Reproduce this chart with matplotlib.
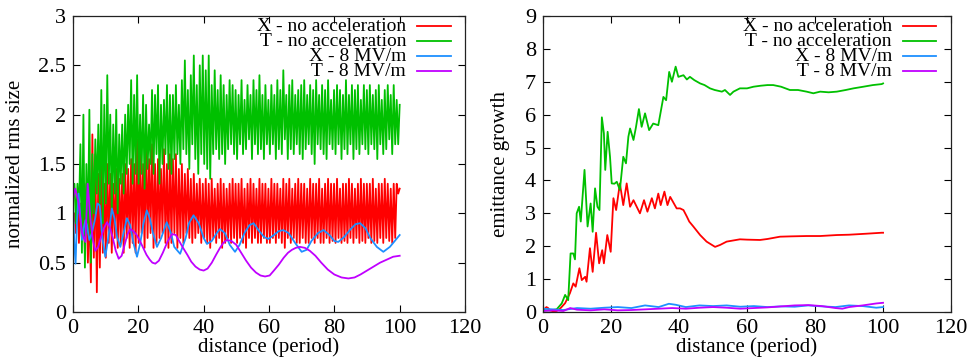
import numpy as np
import matplotlib
matplotlib.use('Agg')
import matplotlib.pyplot as plt
from matplotlib.lines import Line2D

# ---- left panel: normalized rms size ----
# fast oscillating curves, read as alternating troughs / peaks over 0..100 periods
x_noacc_peaks = [1.0, 1.2, 1.1, 1.25, 1.3, 1.1, 1.8, 1.6, 1.4, 1.5, 1.3,
                 1.5, 1.4, 1.3, 1.45, 1.35, 1.4, 1.5, 1.45, 1.55, 1.5, 1.75,
                 1.6, 1.5, 1.75, 1.55, 1.7, 1.5, 1.55, 1.45, 1.65, 1.5, 1.6,
                 1.55, 1.6, 1.45, 1.5, 1.4, 1.45, 1.35, 1.4, 1.3, 1.35, 1.3,
                 1.35, 1.3, 1.35, 1.25, 1.3, 1.35, 1.3, 1.25, 1.3, 1.35, 1.3,
                 1.3, 1.35, 1.25, 1.3, 1.35, 1.3, 1.25, 1.35, 1.3, 1.3, 1.25,
                 1.35, 1.3, 1.3, 1.25, 1.35, 1.3, 1.35, 1.25, 1.3, 1.35, 1.3,
                 1.3, 1.25, 1.35, 1.3, 1.3, 1.35, 1.25, 1.3, 1.35, 1.3, 1.3,
                 1.35, 1.25, 1.3, 1.3, 1.35, 1.3, 1.25, 1.3, 1.35, 1.3, 1.3,
                 1.3, 1.35, 1.25, 1.3, 1.3, 1.35, 1.3, 1.25, 1.3, 1.3, 1.25]
x_noacc_troughs = [0.9, 0.8, 0.7, 0.75, 0.6, 0.5, 0.3, 0.55, 0.2, 0.45, 0.6,
                   0.55, 0.7, 0.6, 0.75, 0.65, 0.7, 0.6, 0.75, 0.65, 0.7, 0.6,
                   0.7, 0.8, 0.65, 0.75, 0.8, 0.65, 0.7, 0.75, 0.8, 0.7, 0.65,
                   0.7, 0.8, 0.65, 0.75, 0.7, 0.8, 0.75, 0.7, 0.75, 0.8, 0.7,
                   0.75, 0.7, 0.65, 0.75, 0.7, 0.75, 0.65, 0.7, 0.75, 0.7, 0.75,
                   0.7, 0.75, 0.7, 0.65, 0.75, 0.7, 0.75, 0.7, 0.7, 0.75, 0.7,
                   0.7, 0.75, 0.7, 0.75, 0.7, 0.65, 0.75, 0.7, 0.75, 0.7, 0.7,
                   0.75, 0.7, 0.7, 0.75, 0.7, 0.75, 0.7, 0.7, 0.75, 0.7, 0.72,
                   0.7, 0.75, 0.7, 0.72, 0.7, 0.75, 0.7, 0.75, 0.7, 0.72, 0.7,
                   0.75, 0.7, 0.72, 0.7, 0.75, 0.7, 0.75, 0.72, 0.7, 0.75, 1.2]

t_noacc_peaks = [1.3, 1.3, 1.7, 2.0, 1.5, 2.05, 1.6, 1.75, 1.9, 2.25, 2.1,
                 2.4, 2.0, 1.9, 2.05, 1.8, 1.9, 2.0, 2.1, 2.35, 2.2, 2.4,
                 2.0, 2.2, 2.1, 1.9, 2.25, 2.2, 2.3, 2.1, 2.15, 2.3, 2.2,
                 2.2, 2.3, 2.1, 2.35, 2.55, 2.25, 2.4, 2.6, 2.3, 2.5, 2.6,
                 2.45, 2.6, 2.3, 2.45, 2.25, 2.4, 2.3, 2.2, 2.35, 2.3, 2.25,
                 2.2, 2.35, 2.15, 2.3, 2.2, 2.35, 2.25, 2.4, 2.2, 2.3, 2.15,
                 2.3, 2.2, 2.35, 2.25, 2.45, 2.2, 2.3, 2.35, 2.2, 2.25, 2.3,
                 2.35, 2.2, 2.3, 2.25, 2.35, 2.2, 2.3, 2.25, 2.35, 2.15, 2.25,
                 2.3, 2.25, 2.2, 2.35, 2.2, 2.3, 2.25, 2.3, 2.15, 2.3, 2.25,
                 2.3, 2.2, 2.25, 2.3, 2.15, 2.25, 2.3, 2.2, 2.3, 2.15, 2.1]
t_noacc_troughs = [1.2, 0.9, 1.0, 0.6, 0.45, 0.8, 0.5, 1.0, 1.2, 1.1, 0.9,
                   1.1, 1.3, 1.0, 1.2, 1.0, 1.3, 1.2, 1.4, 1.5, 1.3, 1.4,
                   1.3, 1.4, 1.25, 1.45, 1.5, 1.4, 1.6, 1.3, 1.5, 1.6, 1.45,
                   1.4, 1.55, 1.6, 1.5, 1.65, 1.6, 1.45, 1.7, 1.55, 1.4, 1.6,
                   1.5, 1.45, 1.35, 1.6, 1.65, 1.55, 1.6, 1.5, 1.65, 1.7, 1.6,
                   1.55, 1.7, 1.6, 1.65, 1.75, 1.55, 1.7, 1.6, 1.65, 1.55, 1.7,
                   1.6, 1.7, 1.55, 1.65, 1.6, 1.75, 1.55, 1.65, 1.6, 1.7, 1.6,
                   1.55, 1.65, 1.7, 1.6, 1.5, 1.7, 1.65, 1.6, 1.55, 1.7, 1.65,
                   1.6, 1.7, 1.55, 1.65, 1.6, 1.7, 1.55, 1.65, 1.6, 1.7, 1.65,
                   1.6, 1.7, 1.65, 1.55, 1.7, 1.6, 1.65, 1.75, 1.6, 1.7, 1.7]

x_acc_rms_d = [0, 0.4, 0.8, 1.2, 1.7, 2.3, 2.8, 3.3, 3.8, 4.3, 5.0, 5.8, 6.8, 7.5, 8.2,
               9.0, 9.9, 10.8, 11.9, 12.7, 13.5, 14.5, 15.5, 16.5, 17.5, 18.5, 19.6,
               20.6, 21.6, 22.6, 23.5, 24.5, 25.7, 27.0, 28.7, 30.0, 31.0, 32.8, 34.5,
               35.5, 36.9, 38.5, 40.0, 41.0, 42.5, 44.0, 45.0, 46.5, 48.0, 49.6, 51.0,
               52.5, 54.0, 55.3, 57.0, 58.5, 59.8, 61.5, 63.0, 64.4, 66.0, 68.0, 70.0,
               71.5, 73.0, 75.0, 76.7, 78.5, 80.0, 81.2, 83.0, 85.0, 86.5, 87.9, 89.5,
               91.0, 93.0, 95.0, 97.0, 98.5, 100]
x_acc_rms = [1.1, 0.7, 0.49, 0.9, 1.2, 0.95, 0.73, 0.85, 0.93, 0.88, 0.73, 0.8, 0.95, 1.1, 1.08,
             0.75, 0.56, 0.75, 1.05, 0.95, 0.76, 0.66, 0.8, 0.95, 0.88, 0.7, 0.56,
             0.7, 0.9, 1.03, 0.95, 0.8, 0.66, 0.75, 0.91, 0.8, 0.66, 0.59, 0.75,
             0.9, 0.98, 0.9, 0.75, 0.69, 0.72, 0.8, 0.84, 0.8, 0.68, 0.61, 0.68,
             0.8, 0.88, 0.9, 0.82, 0.76, 0.74, 0.78, 0.82, 0.83, 0.8, 0.7, 0.61,
             0.63, 0.72, 0.8, 0.83, 0.78, 0.72, 0.71, 0.76, 0.84, 0.89, 0.9, 0.85,
             0.75, 0.66, 0.61, 0.66, 0.72, 0.78]

t_acc_rms_d = [0, 0.7, 1.7, 2.8, 3.8, 4.5, 5.3, 6.0, 6.8, 7.7, 8.5, 9.5, 10.4, 11.3, 12.2,
               13.1, 14.0, 14.9, 15.8, 16.7, 17.5, 18.5, 19.5, 20.5, 21.5, 22.5, 23.5,
               24.3, 25.2, 26.3, 27.5, 28.9, 30.3, 31.5, 32.5, 33.7, 35.0, 36.2, 37.5,
               38.8, 40.0, 41.2, 42.5, 43.8, 45.0, 46.0, 47.1, 48.5, 50.0, 51.5, 53.0,
               54.5, 56.0, 57.4, 58.8, 60.2, 61.5, 63.0, 64.5, 65.8, 67.0, 68.2, 69.5,
               71.0, 72.5, 74.2, 76.0, 78.0, 80.0, 82.2, 84.3, 86.2, 88.0, 90.0, 92.0,
               94.0, 96.0, 98.0, 100]
t_acc_rms = [1.15, 1.25, 1.11, 0.8, 0.71, 1.3, 0.96, 0.75, 0.62, 0.66, 0.75, 0.85, 0.91, 0.86, 0.75,
             0.62, 0.54, 0.57, 0.68, 0.79, 0.84, 0.82, 0.78, 0.72, 0.65, 0.58, 0.53,
             0.5, 0.49, 0.52, 0.6, 0.71, 0.79, 0.78, 0.72, 0.65, 0.58, 0.51, 0.46,
             0.43, 0.42, 0.44, 0.5, 0.58, 0.65, 0.7, 0.73, 0.72, 0.68, 0.6, 0.52,
             0.45, 0.4, 0.37, 0.36, 0.37, 0.42, 0.48, 0.55, 0.6, 0.63, 0.65, 0.66,
             0.65, 0.62, 0.57, 0.5, 0.43, 0.38, 0.35, 0.34, 0.35, 0.38, 0.42, 0.46,
             0.5, 0.53, 0.56, 0.57]

# ---- right panel: emittance growth ----
x_noacc_em_d = [0, 1, 1.5, 2, 3, 4, 5, 6.5, 7.9, 8.9, 9.6, 10.7, 11.4, 12.4, 12.8, 13.8,
                14.6, 15.6, 16.5, 17.4, 17.9, 18.9, 19.9, 20.7, 21.5, 22.6, 23.6, 24.6,
                25.6, 26.6, 28.5, 29.7, 30.7, 32.0, 32.9, 33.9, 34.6, 35.7, 36.6, 37.4,
                39.3, 40.3, 41.3, 42.3, 43.0, 44.2, 46.2, 48.1, 50.6, 52.1, 54.0, 57.9,
                60.0, 63.8, 66.0, 69.7, 73.0, 77.5, 81.5, 86.4, 90.0, 95.0, 99.6, 100]
x_noacc_em = [0.05, 0.15, 0.12, 0.05, 0.02, 0.03, 0.1, 0.27, 0.57, 0.87, 0.77, 1.33, 0.97, 1.07, 0.92, 1.94,
              1.22, 2.41, 1.48, 1.88, 1.48, 2.34, 1.83, 3.46, 3.1, 3.91, 3.25, 3.91,
              3.2, 3.4, 3.0, 3.4, 3.05, 3.46, 3.15, 3.6, 3.25, 3.66, 3.25, 3.5,
              3.15, 3.15, 3.1, 2.9, 2.75, 2.6, 2.34, 2.14, 1.98, 2.04, 2.14, 2.21,
              2.2, 2.19, 2.22, 2.29, 2.3, 2.31, 2.31, 2.34, 2.35, 2.38, 2.41, 2.41]

t_noacc_em_d = [0, 2, 4, 5.5, 6.5, 7.4, 8.1, 8.9, 9.4, 9.9, 10.6, 11.1, 12.2, 13.1, 14.0,
                14.6, 15.3, 16.0, 16.6, 17.3, 17.9, 18.3, 19.0, 19.7, 20.2, 21.0, 21.7,
                22.6, 23.6, 24.4, 25.1, 25.6, 26.6, 27.3, 28.2, 29.0, 30.0, 31.2, 32.4,
                33.9, 35.4, 36.2, 37.1, 37.9, 39.0, 39.8, 41.3, 42.3, 43.2, 44.5, 46.2,
                47.5, 49.1, 50.5, 52.6, 53.5, 55.0, 56.0, 57.9, 60.0, 61.9, 64.0, 66.0,
                67.7, 70.0, 72.6, 75.0, 77.5, 79.5, 81.5, 84.0, 86.4, 89.0, 91.3, 94.2,
                97.0, 99.6, 100]
t_noacc_em = [0.05, 0.05, 0.08, 0.26, 0.52, 0.36, 1.78, 1.78, 1.6, 3.0, 3.2, 2.75, 4.32, 2.6, 3.3,
              2.44, 3.76, 3.2, 3.1, 5.92, 5.43, 4.32, 5.48, 4.72, 3.91, 3.9, 3.96,
              3.71, 4.72, 4.52, 5.33, 5.58, 5.23, 5.6, 6.17, 5.63, 6.04, 5.53, 5.73,
              5.68, 6.54, 6.44, 7.3, 7.0, 7.46, 7.15, 7.2, 7.07, 7.15, 7.05, 6.95,
              6.9, 6.8, 6.75, 6.7, 6.75, 6.6, 6.7, 6.8, 6.8, 6.85, 6.88, 6.9,
              6.9, 6.85, 6.75, 6.75, 6.7, 6.65, 6.7, 6.68, 6.7, 6.75, 6.8, 6.85,
              6.9, 6.93, 6.95]

x_acc_em_d = [0, 3, 6, 10, 14, 18, 22, 26, 30, 34, 37, 39, 42, 46, 50, 54, 58, 62, 66, 70,
              74, 78, 82, 86, 90, 94, 98, 100]
x_acc_em = [0.1, 0.08, 0.06, 0.12, 0.1, 0.13, 0.15, 0.12, 0.2, 0.15, 0.25, 0.22, 0.15, 0.2,
            0.18, 0.2, 0.16, 0.18, 0.15, 0.17, 0.16, 0.2, 0.17, 0.15, 0.2, 0.18, 0.13, 0.15]

t_acc_em_d = [0, 3, 6, 8, 10, 14, 18, 22, 26, 30, 34, 38, 42, 46, 50, 54, 58, 62, 66, 70,
              74, 78, 82, 86, 88, 90, 94, 98, 100]
t_acc_em = [0.03, 0.05, 0.03, 0.12, 0.07, 0.05, 0.08, 0.05, 0.06, 0.08, 0.1, 0.12, 0.1, 0.13,
            0.15, 0.13, 0.1, 0.12, 0.14, 0.17, 0.2, 0.21, 0.18, 0.12, 0.1, 0.15, 0.2, 0.26, 0.28]

labels = ['X - no acceleration', 'T - no acceleration', 'X - 8 MV/m', 'T - 8 MV/m']
colors = ['#ff0000', '#00c000', '#1e90ff', '#c000ff']

plt.rcParams['font.family'] = ['Liberation Serif', 'DejaVu Serif']
plt.rcParams['font.size'] = 14

fig = plt.figure(figsize=(9.69, 3.58), dpi=100)
ax1 = fig.add_axes([0.0753, 0.1285, 0.4046, 0.8268])
ax2 = fig.add_axes([0.5604, 0.1285, 0.4211, 0.8268])

# trough, peak, trough, peak ...
x_noacc_rms = np.column_stack([x_noacc_troughs, x_noacc_peaks]).ravel()
t_noacc_rms = np.column_stack([t_noacc_troughs, t_noacc_peaks]).ravel()

left_series = [
    (np.linspace(0, 100, len(x_noacc_rms)), x_noacc_rms),
    (np.linspace(0, 100, len(t_noacc_rms)), t_noacc_rms),
    (x_acc_rms_d, x_acc_rms),
    (t_acc_rms_d, t_acc_rms),
]
right_series = [
    (x_noacc_em_d, x_noacc_em),
    (t_noacc_em_d, t_noacc_em),
    (x_acc_em_d, x_acc_em),
    (t_acc_em_d, t_acc_em),
]

for (xs, ys), c in zip(left_series, colors):
    ax1.plot(xs, ys, color=c, lw=1.3)
for (xs, ys), c in zip(right_series, colors):
    ax2.plot(xs, ys, color=c, lw=1.3)

ax1.set_xlim(0, 120)
ax1.set_ylim(0, 3)
ax1.set_xticks(range(0, 121, 20))
ax1.set_yticks([0, 0.5, 1, 1.5, 2, 2.5, 3])
ax1.set_yticklabels(['0', '0.5', '1', '1.5', '2', '2.5', '3'])
ax1.set_ylabel('normalized rms size', fontsize=15)
ax1.yaxis.set_label_coords(-0.122, 0.5)

ax2.set_xlim(0, 120)
ax2.set_ylim(0, 9)
ax2.set_xticks(range(0, 121, 20))
ax2.set_yticks(range(0, 10))
ax2.set_ylabel('emittance growth', fontsize=15)
ax2.yaxis.set_label_coords(-0.081, 0.5)

# gnuplot-like key: right-aligned text, sample line after it
key_pos = {ax1: (0.8495, 0.8776, 0.9643), ax2: (0.855, 0.882, 0.963)}
rows = [0.966, 0.915, 0.864, 0.813]
for ax in (ax1, ax2):
    ax.set_xlabel('distance (period)', fontsize=15)
    ax.xaxis.set_label_coords(0.5, -0.085)
    ax.tick_params(direction='in', length=5, width=0.8, top=True, right=True,
                   labelsize=16, pad=5)
    for s in ax.spines.values():
        s.set_linewidth(0.9)
        s.set_color('#222222')
    tx, l0, l1 = key_pos[ax]
    for lab, c, yy in zip(labels, colors, rows):
        ax.text(tx, yy, lab, transform=ax.transAxes, ha='right', va='center', fontsize=14)
        ax.add_line(Line2D([l0, l1], [yy, yy], transform=ax.transAxes, color=c, lw=1.3))

fig.savefig('out.png', dpi=100)
